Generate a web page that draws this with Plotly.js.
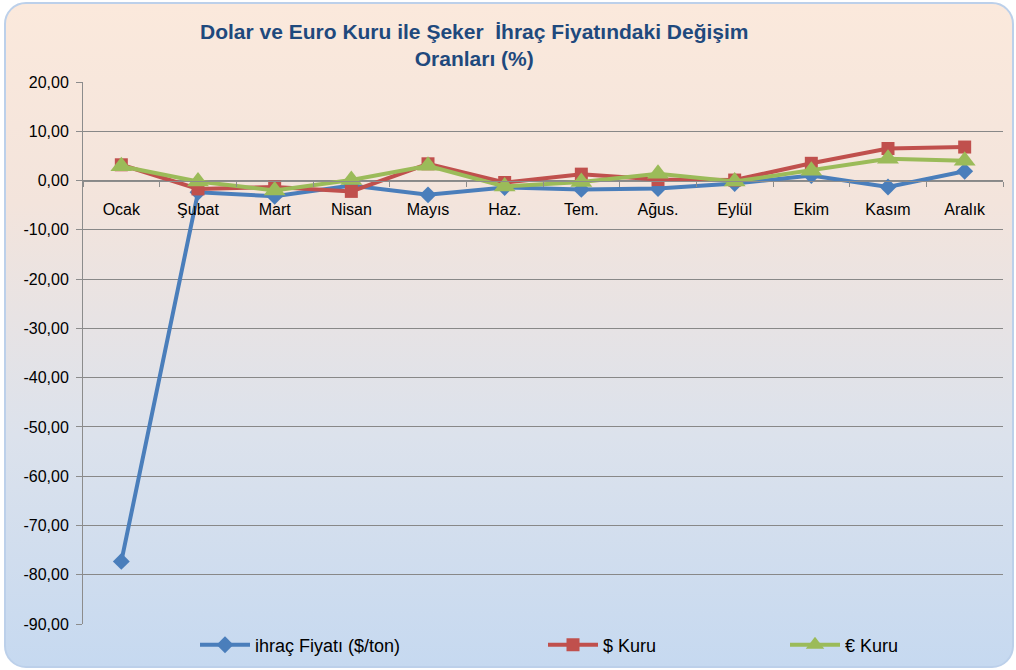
<!DOCTYPE html>
<html>
<head>
<meta charset="utf-8">
<script src="https://cdn.plot.ly/plotly-3.0.1.min.js"></script>
<style>
  html, body { margin: 0; padding: 0; background: #ffffff; }
  #frame {
    position: absolute; left: 4px; top: 2px; width: 1006px; height: 662px;
    border: 2px solid #BCD0EA; border-radius: 22px;
    background: linear-gradient(to bottom, #FBE9DC 0%, #F3E4DC 30%, #DCE2EC 65%, #C6D9F0 100%);
  }
  #chart { position: absolute; left: 0; top: 0; width: 1016px; height: 670px; }
</style>
</head>
<body>
<div id="frame"></div>
<div id="chart"></div>
<script>
// Months (Turkish abbreviations as printed on the axis)
const months = ['Ocak', 'Şubat', 'Mart', 'Nisan', 'Mayıs', 'Haz.', 'Tem.', 'Ağus.', 'Eylül', 'Ekim', 'Kasım', 'Aralık'];

// Monthly change rates (%)
const ihracFiyati = [-77.3, -2.4, -3.2, -1.0, -2.9, -1.4, -1.8, -1.6, -0.6, 1.0, -1.3, 1.9];
const dolarKuru   = [3.2, -1.7, -1.3, -2.2, 3.4, -0.4, 1.3, 0.2, 0.1, 3.5, 6.5, 6.8];
const euroKuru    = [2.9, -0.2, -2.0, 0.1, 3.0, -1.2, -0.3, 1.4, -0.2, 2.0, 4.4, 4.0];

const seriesNames = ['ihraç Fiyatı ($/ton)', '$ Kuru', '€ Kuru'];
const yTicks = [20, 10, 0, -10, -20, -30, -40, -50, -60, -70, -80, -90];
// Turkish number format with a plain hyphen for negatives, e.g. "-10,00"
const yTickText = yTicks.map(v => v.toFixed(2).replace('.', ','));
const chartTitle = '<b>Dolar ve Euro Kuru ile Şeker  İhraç Fiyatındaki Değişim<br>Oranları (%)</b>';

const FONT = 'Liberation Sans, Arial, sans-serif';

const traces = [
  {
    x: months, y: ihracFiyati, name: seriesNames[0], type: 'scatter', mode: 'lines+markers',
    line: { color: '#4A7EBB', width: 4 },
    marker: { symbol: 'diamond', size: 13, color: '#4A7EBB' },
    legend: 'legend'
  },
  {
    x: months, y: dolarKuru, name: seriesNames[1], type: 'scatter', mode: 'lines+markers',
    line: { color: '#C0504D', width: 4 },
    marker: { symbol: 'square', size: 13, color: '#C0504D' },
    legend: 'legend2'
  },
  {
    x: months, y: euroKuru, name: seriesNames[2], type: 'scatter', mode: 'lines+markers',
    line: { color: '#9BBB59', width: 4 },
    marker: { symbol: 'triangle-up', size: 19, color: '#9BBB59' },
    legend: 'legend3'
  }
];

const legendBase = {
  orientation: 'h', yref: 'container', y: 25 / 670, yanchor: 'middle', xanchor: 'left',
  itemwidth: 50,
  bgcolor: 'rgba(0,0,0,0)', font: { family: FONT, size: 18, color: '#000' }
};

const layout = {
  width: 1016, height: 670,
  paper_bgcolor: 'rgba(0,0,0,0)',
  plot_bgcolor: 'rgba(0,0,0,0)',
  separators: ',.',
  margin: { l: 83, r: 13, t: 82, b: 46, pad: 0, autoexpand: false },
  font: { family: FONT, size: 16, color: '#000' },
  annotations: [{
    text: chartTitle, showarrow: false,
    font: { family: FONT, size: 21, color: '#1F497D' },
    xref: 'paper', x: 0.426, xanchor: 'center',
    yref: 'paper', y: 1 + (82 - 45) / 542, yanchor: 'middle'
  }],
  xaxis: {
    type: 'category',
    anchor: 'free', position: 90 / 110,
    showline: true, linecolor: '#8C8C8C', linewidth: 1,
    ticks: 'outside', tickson: 'boundaries', ticklen: 5, tickcolor: '#8C8C8C',
    showgrid: false, zeroline: false,
    tickfont: { family: FONT, size: 16, color: '#000' },
    ticklabelstandoff: 14,
    range: [-0.5, 11.5], fixedrange: true
  },
  yaxis: {
    range: [-90, 20], tickmode: 'array', tickvals: yTicks, ticktext: yTickText,
    showline: true, linecolor: '#8C8C8C', linewidth: 1,
    ticks: 'outside', ticklen: 6, tickcolor: '#8C8C8C',
    showgrid: true, gridcolor: '#888888', gridwidth: 1,
    zeroline: false,
    tickfont: { family: FONT, size: 16, color: '#000' },
    ticklabelstandoff: 4
  },
  legend:  Object.assign({}, legendBase, { x: (195 - 83) / 920 }),
  legend2: Object.assign({}, legendBase, { x: (543 - 83) / 920 }),
  legend3: Object.assign({}, legendBase, { x: (785 - 83) / 920 }),
  showlegend: true
};

Plotly.newPlot('chart', traces, layout, { displayModeBar: false, staticPlot: true });
</script>
</body>
</html>
